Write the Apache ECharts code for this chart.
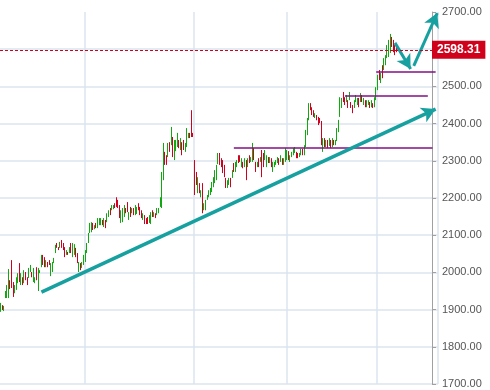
<!DOCTYPE html>
<html><head><meta charset="utf-8">
<script src="https://cdn.jsdelivr.net/npm/echarts@6/dist/echarts.min.js"></script>
<style>html,body{margin:0;padding:0;background:#fff}#c{width:490px;height:390px}</style>
</head><body><div id="c"></div>
<script>
// [open, close, low, high]
const candles = [
[1897,1915,1894,1918],[1910,1900,1899,1912],[1898,1908,1896,1910],[1933,1948,1931,1950],[1935,1962,1931,1966],
[1940,2004,1931,2009],[1976,1958,1955,1979],[2028,1962,1958,2033],[1970,1938,1934,1974],[1946,1962,1944,1966],
[1955,1983,1953,1987],[1973,1995,1971,1998],[2020,1978,1974,2025],[1969,1995,1966,1998],[1984,1968,1966,1987],
[1974,2001,1971,2006],[1998,1982,1979,2001],[1984,1968,1966,1987],[1987,2009,1985,2012],[2003,2017,2001,2020],
[1998,1988,1987,2001],[1976,2008,1974,2012],[1973,1984,1971,1987],[2010,1982,1979,2014],[1960,2008,1950,2012],
[1999,2004,1998,2006],[2016,2044,2014,2047],[2044,2022,2020,2047],[2038,2017,2014,2041],[2017,2030,2014,2033],
[2026,2016,2014,2028],[2031,2022,2020,2033],[1995,2022,1990,2025],[2004,2025,2001,2028],[2028,2037,2025,2039],
[2055,2071,2052,2074],[2077,2068,2066,2079],[2066,2061,2060,2068],[2068,2079,2066,2082],[2084,2068,2066,2087],
[2076,2062,2060,2079],[2066,2044,2041,2068],[2049,2057,2047,2060],[2054,2049,2047,2055],
[2054,2066,2052,2068],[2076,2055,2052,2079],[2044,2076,2041,2079],[2049,2074,2047,2076],[2064,2044,2041,2066],
[2050,2028,2025,2052],[2004,2025,2001,2028],[2022,2009,2006,2025],[2014,2025,2012,2028],[2022,2044,2020,2047],
[2030,2057,2028,2060],[2055,2076,2052,2079],[2082,2103,2079,2106],[2108,2130,2106,2133],[2111,2132,2108,2135],
[2130,2116,2114,2133],[2118,2125,2116,2127],[2130,2121,2119,2133],[2122,2143,2119,2146],[2130,2143,2127,2146],
[2129,2144,2127,2146],[2139,2130,2127,2141],[2125,2143,2122,2146],[2139,2121,2119,2141],[2138,2157,2135,2159],
[2151,2165,2149,2167],[2170,2157,2154,2173],[2168,2178,2167,2181],[2171,2179,2170,2181],[2183,2175,2173,2186],
[2200,2179,2176,2202],[2192,2176,2173,2195],[2178,2149,2146,2181],[2135,2165,2133,2167],[2138,2170,2135,2173],
[2152,2178,2149,2181],[2170,2162,2159,2173],[2186,2165,2162,2189],[2143,2159,2141,2162],[2173,2152,2149,2176],
[2162,2170,2159,2173],[2170,2157,2154,2173],[2157,2178,2154,2181],[2159,2173,2157,2176],[2183,2170,2167,2186],
[2173,2157,2154,2176],[2165,2149,2146,2167],[2143,2157,2141,2159],[2151,2133,2130,2154],[2143,2133,2130,2146],
[2146,2133,2130,2149],[2135,2151,2133,2154],[2133,2159,2130,2162],[2165,2151,2149,2167],[2151,2159,2149,2162],
[2157,2149,2146,2159],[2157,2170,2154,2173],[2162,2170,2159,2173],[2178,2200,2176,2202],[2178,2265,2173,2270],
[2252,2345,2248,2348],[2321,2291,2289,2324],[2313,2291,2289,2315],[2313,2345,2310,2348],[2348,2326,2324,2350],
[2345,2388,2342,2391],[2361,2313,2310,2364],[2305,2353,2302,2356],[2329,2353,2326,2356],[2340,2372,2337,2375],
[2353,2337,2334,2356],[2332,2358,2329,2361],[2348,2318,2315,2350],[2353,2332,2329,2356],[2326,2345,2324,2348],
[2340,2385,2337,2388],[2364,2372,2361,2375],[2372,2364,2361,2375],[2430,2367,2364,2436],[2372,2366,2364,2375],
[2300,2213,2208,2302],[2265,2238,2235,2270],[2216,2252,2213,2256],[2238,2216,2213,2240],[2205,2219,2202,2221],
[2238,2162,2159,2240],[2170,2184,2167,2186],[2173,2192,2167,2195],
[2197,2206,2195,2208],[2205,2219,2202,2221],[2211,2224,2208,2227],[2219,2240,2216,2243],[2232,2254,2229,2256],
[2243,2272,2240,2275],[2251,2286,2248,2289],[2294,2318,2291,2321],[2318,2291,2289,2321],[2305,2286,2283,2307],
[2300,2270,2267,2302],[2286,2259,2256,2289],[2251,2230,2227,2254],[2230,2246,2227,2248],[2238,2251,2235,2254],
[2251,2232,2229,2254],[2256,2272,2254,2275],[2291,2272,2270,2294],[2273,2294,2270,2297],[2286,2300,2283,2302],
[2313,2297,2294,2315],[2313,2299,2297,2315],[2286,2305,2283,2307],[2294,2283,2280,2297],[2286,2305,2283,2307],
[2300,2256,2248,2302],[2286,2305,2283,2307],[2313,2297,2294,2315],[2299,2307,2297,2310],[2299,2345,2297,2348],
[2332,2305,2302,2334],[2294,2272,2270,2297],[2286,2294,2283,2297],[2305,2286,2283,2307],[2299,2307,2297,2310],
[2326,2264,2256,2329],[2318,2286,2283,2321],[2305,2326,2302,2329],[2286,2313,2283,2315],[2307,2297,2294,2310],
[2297,2307,2294,2310],[2305,2286,2283,2307],[2273,2294,2270,2297],[2286,2294,2283,2297],
[2294,2300,2289,2302],[2297,2307,2294,2310],[2305,2291,2289,2307],[2299,2313,2297,2315],[2305,2291,2289,2307],
[2291,2305,2289,2307],[2299,2332,2297,2334],[2305,2326,2302,2329],[2324,2305,2302,2326],[2299,2313,2297,2315],
[2313,2321,2310,2324],[2318,2332,2315,2334],[2324,2334,2321,2337],[2321,2310,2307,2324],[2318,2310,2307,2321],
[2313,2318,2310,2321],[2318,2329,2315,2332],[2329,2318,2315,2332],[2318,2340,2315,2342],[2340,2380,2337,2383],
[2372,2412,2369,2415],[2412,2452,2409,2455],[2452,2439,2436,2455],[2442,2426,2423,2444],[2434,2420,2418,2436],
[2418,2426,2415,2428],[2423,2412,2409,2423],[2415,2399,2396,2418],[2412,2404,2401,2415],[2404,2345,2342,2407],
[2329,2358,2324,2361],[2358,2340,2337,2361],[2340,2353,2337,2356],[2353,2337,2334,2356],[2342,2358,2340,2361],
[2353,2337,2334,2356],[2340,2358,2337,2361],[2353,2345,2342,2356],[2345,2353,2342,2356],[2356,2383,2353,2388],
[2380,2407,2377,2410],[2420,2468,2418,2471],
[2444,2466,2442,2469],[2482,2460,2458,2485],[2468,2452,2450,2471],[2458,2474,2458,2477],[2460,2444,2442,2463],
[2466,2482,2463,2485],[2455,2444,2442,2458],[2447,2431,2428,2450],[2444,2460,2442,2463],[2458,2474,2458,2477],
[2455,2466,2450,2469],[2466,2447,2444,2469],[2460,2479,2458,2482],[2474,2458,2458,2477],[2452,2466,2450,2469],
[2460,2447,2444,2463],[2447,2460,2444,2463],[2452,2460,2450,2463],[2458,2444,2442,2458],[2447,2460,2444,2463],
[2455,2444,2442,2455],[2447,2468,2444,2471],[2466,2495,2463,2498],[2493,2528,2490,2531],[2541,2520,2517,2544],
[2512,2533,2509,2536],[2554,2525,2522,2557],[2546,2573,2544,2576],[2560,2581,2557,2584],[2579,2608,2576,2611],
[2582,2622,2579,2625],[2592,2638,2590,2641],[2630,2608,2606,2633],[2622,2595,2592,2625],[2608,2587,2584,2611],
[2606,2598.31,2592,2610]
];
const totalSlots = 280;            // category slots incl. empty right margin
const yMin = 1700, yMax = 2700, yStep = 100;
const lastPrice = 2598.31;
// horizontal support/resistance levels: [startIndex, endIndex, value]
const levelLines = [[149, 276, 2334], [220, 273, 2476], [240, 278, 2540]];
// arrows: [startIndex, startValue, endIndex, endValue, width]
const trendArrows = [[26, 1947, 278, 2439, 3.5], [252, 2617, 262, 2547, 3], [264, 2555, 279, 2697, 3]];
// vertical grid line slots
const gridSlots = [54, 124, 183, 241];

const categories = Array.from({length: totalSlots}, (_, i) => String(i));

const UP = '#12a812', DOWN = '#d0001f', TEAL = '#17a0a0', PURPLE = '#850f85', PRICE = '#d0021b';

const mlData = [];
levelLines.forEach(l => mlData.push([
  {coord: [l[0], l[2]], symbol: 'none', lineStyle: {color: PURPLE, width: 1.5, type: 'solid'}},
  {coord: [l[1], l[2]], symbol: 'none'}
]));
trendArrows.forEach(a => mlData.push([
  {coord: [a[0], a[1]], symbol: 'none', lineStyle: {color: TEAL, width: a[4], type: 'solid'}},
  {coord: [a[2], a[3]], symbol: 'arrow', symbolSize: [12, 14]}
]));
mlData.push({
  yAxis: lastPrice, symbol: 'none',
  lineStyle: {color: PRICE, width: 1, type: [3, 2]},
  label: {show: true, position: 'end', distance: -6, formatter: lastPrice.toFixed(2),
    backgroundColor: PRICE, color: '#fff', fontWeight: 'bold', fontSize: 12,
    fontFamily: 'Liberation Sans, Arial, sans-serif', padding: [3, 5, 3, 5]}
});

const chart = echarts.init(document.getElementById('c'), null, {renderer: 'canvas'});
chart.setOption({
  animation: false,
  backgroundColor: '#fff',
  grid: {left: 0, right: 52, top: 12, bottom: 6, containLabel: false, outerBoundsMode: 'none'},
  xAxis: {
    type: 'category', data: categories, boundaryGap: true,
    axisLine: {show: false}, axisTick: {show: false}, axisLabel: {show: false},
    splitLine: {show: true, interval: (i) => gridSlots.includes(i), lineStyle: {color: '#dbe5ef', width: 1.5}}
  },
  yAxis: {
    type: 'value', position: 'right', offset: -6, min: yMin, max: yMax, interval: yStep, scale: true,
    axisLine: {show: true, lineStyle: {color: '#a0a0a0'}},
    axisTick: {show: true, length: 4, lineStyle: {color: '#a0a0a0'}},
    axisLabel: {margin: 10, color: '#555', fontSize: 11, fontFamily: 'Liberation Sans, Arial, sans-serif',
      formatter: v => v.toFixed(2)},
    splitLine: {show: true, showMaxLine: false, lineStyle: {color: '#dbe5ef', width: 1.5}}
  },
  series: [{
    type: 'candlestick',
    data: candles,
    barWidth: 1.2,
    itemStyle: {color: UP, color0: DOWN, borderColor: UP, borderColor0: DOWN, borderWidth: 1},
    markLine: {silent: true, animation: false, label: {show: false}, symbol: ['none', 'none'], data: mlData}
  }]
});
</script></body></html>
